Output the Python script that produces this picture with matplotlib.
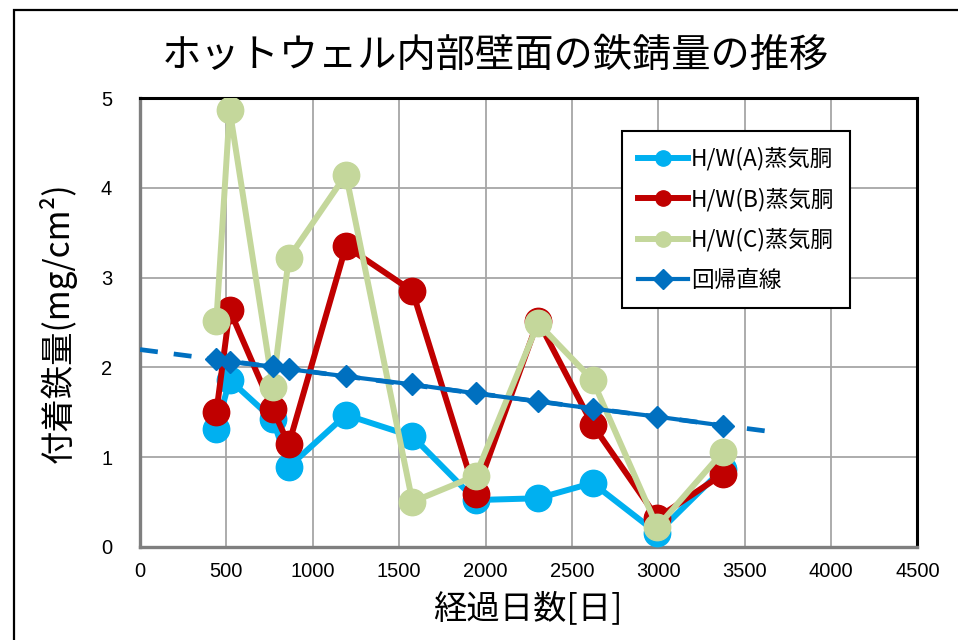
import numpy as np
import matplotlib
matplotlib.use("Agg")
import matplotlib.pyplot as plt
from matplotlib.patches import Rectangle

# Elapsed days at each inspection
days = [442, 519, 769, 861, 1192, 1577, 1942, 2304, 2619, 2994, 3374]

# Rust deposit (mg/cm2) on each hotwell steam drum
hw_a = [1.31, 1.86, 1.42, 0.89, 1.47, 1.23, 0.52, 0.54, 0.71, 0.15, 0.87]
hw_b = [1.50, 2.64, 1.53, 1.14, 3.35, 2.85, 0.59, 2.52, 1.36, 0.32, 0.81]
hw_c = [2.52, 4.87, 1.78, 3.22, 4.15, 0.50, 0.79, 2.49, 1.86, 0.22, 1.06]
regression = [2.09, 2.06, 2.01, 1.98, 1.90, 1.81, 1.71, 1.62, 1.54, 1.45, 1.35]

labels = ["H/W(A)蒸気胴", "H/W(B)蒸気胴", "H/W(C)蒸気胴", "回帰直線"]
title = "ホットウェル内部壁面の鉄錆量の推移"
xlabel = "経過日数[日]"
ylabel = "付着鉄量(mg/cm²)"
xticks = [0, 500, 1000, 1500, 2000, 2500, 3000, 3500, 4000, 4500]
yticks = [0, 1, 2, 3, 4, 5]

JP = ["Noto Sans CJK JP", "DejaVu Sans"]
NUM = ["Liberation Sans", "DejaVu Sans"]

W, H = 958, 640
fig = plt.figure(figsize=(W / 100, H / 100), dpi=100)

# outer chart-area frame
fig.patches.append(Rectangle((13.5 / W, -0.2), 2.0, 1.2 - 10 / H,
                             transform=fig.transFigure, fill=False,
                             edgecolor="black", linewidth=1.6))

L, R, T, B = 140, 917.5, 98.3, 546.7
ax = fig.add_axes([L / W, 1 - B / H, (R - L) / W, (B - T) / H])

ax.set_xlim(0, 4500)
ax.set_ylim(0, 5)
ax.set_xticks(xticks)
ax.set_yticks(yticks)
ax.grid(True, color="#a6a6a6", linewidth=1.3)
ax.set_axisbelow(True)

for side in ("top", "right"):
    ax.spines[side].set_color("black")
    ax.spines[side].set_linewidth(2.2)
for side in ("left", "bottom"):
    ax.spines[side].set_color("#7f7f7f")
    ax.spines[side].set_linewidth(2.4)

ax.tick_params(length=0, labelsize=14.5)
ax.tick_params(axis="x", pad=11)
ax.tick_params(axis="y", pad=20)
for lab in ax.get_xticklabels() + ax.get_yticklabels():
    lab.set_fontfamily(NUM)

ms, lw = 19, 4.3
ax.plot(days, hw_a, color="#00b0f0", marker="o", ms=ms, lw=lw, label=labels[0], zorder=3)
ax.plot(days, hw_b, color="#c00000", marker="o", ms=ms, lw=lw, label=labels[1], zorder=4)
ax.plot(days, hw_c, color="#c4d79b", marker="o", ms=ms, lw=lw, label=labels[2], zorder=5)

# linear trend extended backward and forward
k, b0 = np.polyfit(days, regression, 1)
xt = np.array([0, 3700])
ax.plot(xt, k * xt + b0, color="#0070c0", lw=3.4, ls=(0, (3.8, 3.4)), zorder=6)
ax.plot(days, regression, color="#0070c0", marker="D", ms=11, lw=3.0,
        label=labels[3], zorder=7)

leg = ax.legend(loc="upper left", bbox_to_anchor=((622 - L) / (R - L), (B - 131) / (B - T)),
                borderaxespad=0, prop={"family": JP, "size": 16.3}, frameon=True,
                fancybox=False, edgecolor="black", framealpha=1,
                handlelength=2.2, handletextpad=0.15, labelspacing=0.75,
                borderpad=0.7)
leg.get_frame().set_linewidth(1.5)
for h, size in zip(leg.get_lines(), [11, 11, 11, 10]):
    h.set_markersize(size)

fig.text(495 / W, 1 - 56 / H, title, ha="center", va="center", fontsize=28.3, family=JP)
fig.text(528 / W, 1 - 609 / H, xlabel, ha="center", va="center", fontsize=24, family=JP)
fig.text(58 / W, 1 - 323 / H, ylabel, ha="center", va="center", fontsize=24, family=JP,
         rotation=90)

fig.savefig("out.png", dpi=100)
